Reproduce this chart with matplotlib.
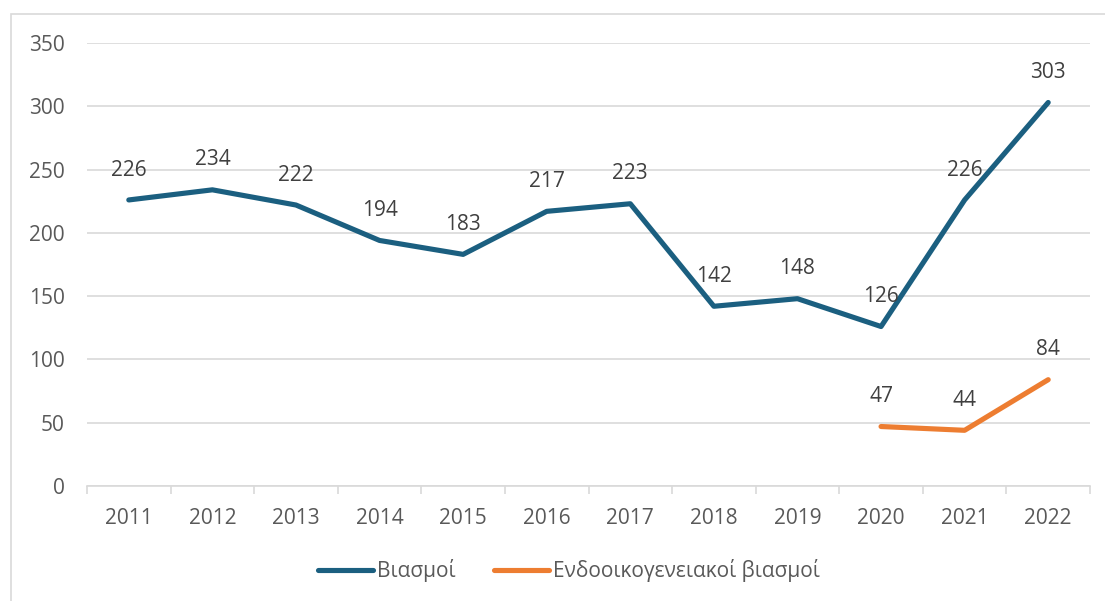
import matplotlib
matplotlib.use("Agg")
import matplotlib.pyplot as plt
from matplotlib.patches import Rectangle
import numpy as np

plt.rcParams['font.family'] = ['Open Sans', 'DejaVu Sans']

years = ['2011', '2012', '2013', '2014', '2015', '2016',
         '2017', '2018', '2019', '2020', '2021', '2022']
rapes = [226, 234, 222, 194, 183, 217, 223, 142, 148, 126, 226, 303]
domestic_years = ['2020', '2021', '2022']
domestic_rapes = [47, 44, 84]

BLUE = '#1B5F80'
ORANGE = '#ED7D31'
GRID = '#D9D9D9'
TXT = '#595959'
LBL = '#404040'
FS = 15


def main():
    fig = plt.figure(figsize=(11.05, 6.01), dpi=100)
    # chart border
    fig.patches.append(Rectangle((11 / 1105, -0.1), 1.2, 1 - 14 / 601 + 0.1,
                                 transform=fig.transFigure, fill=False,
                                 edgecolor=GRID, linewidth=1.2))
    ax = fig.add_axes([87 / 1105, 1 - 486 / 601, (1090 - 87) / 1105, (486 - 43) / 601])

    x = np.arange(len(years))
    xd = [years.index(y) for y in domestic_years]

    ax.plot(x, rapes, color=BLUE, lw=3.7, solid_capstyle='round', solid_joinstyle='round',
            label='Βιασμοί', zorder=3)
    ax.plot(xd, domestic_rapes, color=ORANGE, lw=3.7, solid_capstyle='round',
            solid_joinstyle='round', label='Ενδοοικογενειακοί βιασμοί', zorder=3)

    for xi, v in zip(x, rapes):
        ax.annotate(str(v), (xi, v), xytext=(0, 14), textcoords='offset points',
                    ha='center', va='bottom', fontsize=FS, color=LBL)
    for xi, v in zip(xd, domestic_rapes):
        ax.annotate(str(v), (xi, v), xytext=(0, 14), textcoords='offset points',
                    ha='center', va='bottom', fontsize=FS, color=LBL)

    ax.set_xlim(-0.5, len(years) - 0.5)
    ax.set_ylim(0, 350)
    ax.set_yticks(np.arange(0, 351, 50))
    ax.set_xticks(x)
    ax.set_xticklabels(years)
    ax.set_xticks(np.arange(-0.5, len(years), 1), minor=True)
    ax.tick_params(axis='x', which='major', length=0, pad=15.5, labelsize=FS, labelcolor=TXT)
    ax.tick_params(axis='x', which='minor', length=6, color=GRID, width=1.2)
    ax.tick_params(axis='y', length=0, pad=16, labelsize=FS, labelcolor=TXT)

    ax.grid(axis='y', color=GRID, lw=1.2)
    ax.set_axisbelow(True)
    for s in ['top', 'right', 'left']:
        ax.spines[s].set_visible(False)
    ax.spines['bottom'].set_color(GRID)
    ax.spines['bottom'].set_linewidth(1.2)

    fig.legend(loc='center', bbox_to_anchor=(569 / 1105, 1 - 571 / 601), ncol=2,
               frameon=False, fontsize=FS, labelcolor=TXT, handlelength=2.65,
               handletextpad=0.2, columnspacing=1.8)

    fig.savefig('out.png', dpi=100)


if __name__ == '__main__':
    main()
